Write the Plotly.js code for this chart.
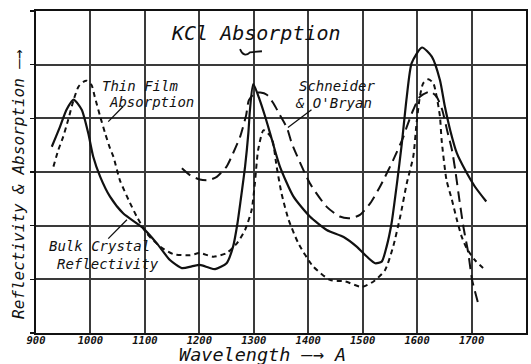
<!DOCTYPE html>
<html>
<head>
<meta charset="utf-8">
<script src="https://cdn.plot.ly/plotly-3.0.1.min.js"></script>
<style>html,body{margin:0;padding:0;background:#fff;}#chart{width:531px;height:364px;}</style>
</head>
<body>
<div id="chart"></div>
<script>
// Bulk crystal reflectivity (solid)
const bulkX = [929,944,956,969,984,996,1005,1018,1036,1060,1097,1122,1146,1168,1186,1201,1217,1229,1250,1262,1270,1276,1284,1290,1293,1299,1311,1321,1330,1348,1373,1403,1434,1465,1489,1508,1523,1535,1544,1553,1563,1572,1581,1590,1609,1627,1642,1651,1661,1673,1688,1706,1727];
const bulkY = [3.47,3.84,4.16,4.35,4.16,3.72,3.29,2.91,2.54,2.23,1.95,1.67,1.36,1.21,1.24,1.27,1.22,1.19,1.30,1.61,2.04,2.48,3.10,3.72,4.16,4.64,4.34,4.03,3.72,3.10,2.54,2.17,1.92,1.79,1.61,1.42,1.30,1.33,1.61,2.04,2.79,3.54,4.40,5.03,5.32,5.15,4.71,4.22,3.77,3.35,3.04,2.73,2.45];
// Thin film absorption (short dash)
const filmX = [932,941,950,959,969,978,987,993,1002,1008,1018,1027,1036,1042,1054,1070,1085,1103,1128,1152,1183,1201,1226,1250,1269,1284,1296,1302,1308,1318,1333,1342,1351,1364,1382,1409,1440,1468,1498,1520,1541,1556,1569,1581,1593,1599,1605,1611,1621,1630,1636,1642,1645,1654,1664,1673,1682,1691,1706,1727];
const filmY = [3.10,3.41,3.66,3.97,4.34,4.59,4.68,4.70,4.62,4.40,4.03,3.72,3.44,3.29,2.85,2.48,2.17,1.86,1.61,1.47,1.45,1.49,1.42,1.49,1.67,1.92,2.29,2.79,3.41,3.78,3.63,3.10,2.60,2.11,1.67,1.24,0.99,0.96,0.86,0.96,1.17,1.61,2.17,2.79,3.29,3.91,4.40,4.65,4.73,4.65,4.40,4.03,3.60,2.85,2.48,2.11,1.79,1.58,1.36,1.16];
// Schneider & O'Bryan (long dash)
const schX = [1168,1183,1201,1217,1232,1250,1262,1275,1286,1291,1302,1312,1324,1336,1348,1361,1370,1403,1434,1458,1477,1495,1514,1532,1556,1575,1581,1593,1605,1624,1636,1646,1655,1664,1670,1676,1685,1694,1701,1713];
const schY = [3.07,2.94,2.86,2.85,2.91,3.10,3.35,3.66,4.06,4.34,4.47,4.48,4.44,4.28,4.06,3.82,3.53,2.79,2.35,2.17,2.14,2.20,2.42,2.73,3.22,3.66,3.84,4.16,4.40,4.50,4.40,4.16,3.78,3.41,3.04,2.60,1.98,1.49,0.99,0.52];
// Axis ticks
const xTickVals = [900,1000,1100,1200,1300,1400,1500,1600,1700,1800];
const xTickText = ["900","1000","1100","1200","1300","1400","1500","1600","1700","1800"];
const yTickVals = [0,1,2,3,4,5,6];

const FONT = "DejaVu Sans Mono";
const lineBase = {color:'#111', width:2, shape:'spline', smoothing:0.6};

const traces = [
  {x: bulkX, y: bulkY, mode:'lines', line:Object.assign({}, lineBase, {dash:'solid', width:2.2}), hoverinfo:'skip'},
  {x: filmX, y: filmY, mode:'lines', line:Object.assign({}, lineBase, {dash:'5px,4px'}), hoverinfo:'skip'},
  {x: schX, y: schY, mode:'lines', line:Object.assign({}, lineBase, {dash:'11px,6px'}), hoverinfo:'skip'}
];

function lab(text, x, y, size, anchor){
  return {text:text, x:x, y:y, xref:'x', yref:'y', showarrow:false, xanchor:anchor||'left', yanchor:'middle',
          font:{family:FONT, size:size, color:'#111', style:'italic'}};
}
function leader(x0,y0,x1,y1){
  return {x:x0, y:y0, ax:x1, ay:y1, xref:'x', yref:'y', axref:'x', ayref:'y', text:'', showarrow:true,
          arrowhead:0, arrowwidth:1.3, arrowcolor:'#111', standoff:0, startstandoff:0};
}

const layout = {
  width:531, height:364,
  margin:{l:36, r:5, t:11, b:31},
  paper_bgcolor:'#fff', plot_bgcolor:'#fff',
  showlegend:false,
  xaxis:{range:[900,1800], tickvals:xTickVals, ticktext:xTickText, showgrid:true, gridcolor:'#3a3a3a', gridwidth:2,
         zeroline:false, showline:true, linecolor:'#111', linewidth:2, mirror:true, ticks:'', ticklabelstandoff:-4,
         tickfont:{family:FONT, size:10.5, color:'#111', style:'italic', weight:'bold'}, fixedrange:true},
  yaxis:{range:[0,6], tickvals:yTickVals, showgrid:true, gridcolor:'#3a3a3a', gridwidth:2, zeroline:false,
         showline:true, linecolor:'#111', linewidth:2, mirror:true, ticks:'outside', ticklen:4, tickwidth:1.5,
         tickcolor:'#111', showticklabels:false, fixedrange:true},
  shapes:[
    {type:'path', xref:'x', yref:'y', path:'M1274.7,5.29 Q1282,5.12 1293,5.23 L1315,5.25',
     line:{color:'#111', width:1.8}}
  ],
  annotations:[
    lab('KCl Absorption', 1304, 5.59, 20, 'center'),
    lab('Thin Film', 1017, 4.60, 14),
    lab('Absorption', 1030, 4.30, 14),
    lab('Schneider', 1379, 4.60, 14),
    lab("& O'Bryan", 1372, 4.28, 14),
    lab('Bulk Crystal', 920, 1.62, 14),
    lab('Reflectivity', 935, 1.28, 14),
    leader(1060, 4.22, 1030, 3.91),
    leader(1406, 4.16, 1360, 3.81),
    leader(1067, 2.11, 1030, 1.73),
    {text:'Wavelength —→ A', xref:'paper', yref:'paper', x:(262-36)/490, y:-(354-333)/322, xanchor:'center', yanchor:'middle',
     showarrow:false, font:{family:FONT, size:18.5, color:'#111', style:'italic'}},
    {text:'Reflectivity & Absorption —→', xref:'paper', yref:'paper', x:-(36-18)/490, y:(333-184)/322, xanchor:'center', yanchor:'middle',
     textangle:-90, showarrow:false, font:{family:FONT, size:16, color:'#111', style:'italic'}}
  ]
};

Plotly.newPlot('chart', traces, layout, {staticPlot:true, displayModeBar:false});
</script>
</body>
</html>
